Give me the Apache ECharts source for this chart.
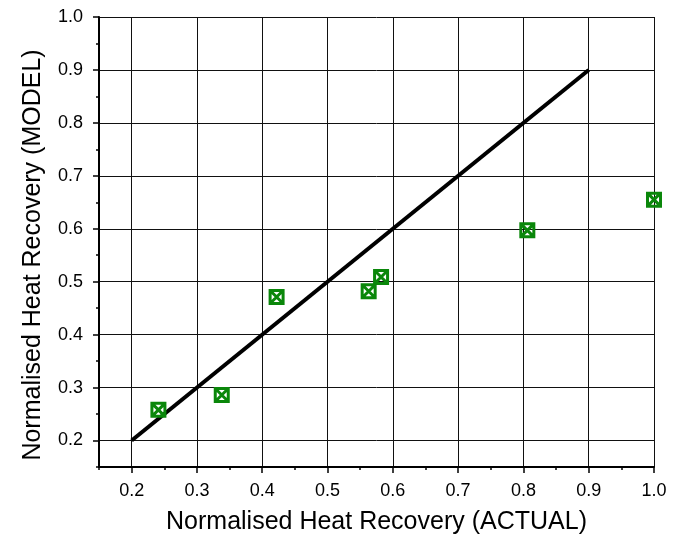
<!DOCTYPE html>
<html>
<head>
<meta charset="utf-8">
<script src="https://cdn.jsdelivr.net/npm/echarts@6/dist/echarts.min.js"></script>
<style>html,body{margin:0;padding:0;background:#fff}#c{width:675px;height:541px}</style>
</head>
<body>
<div id="c"></div>
<script>
var actual = [0.241, 0.338, 0.422, 0.563, 0.582, 0.806, 1.0];
var model  = [0.258, 0.286, 0.471, 0.482, 0.509, 0.597, 0.655];
var lineX = [0.2, 0.9];
var lineY = [0.2, 0.9];
var majorTicks = [0.2, 0.3, 0.4, 0.5, 0.6, 0.7, 0.8, 0.9, 1.0];
var xTitle = 'Normalised Heat Recovery (ACTUAL)';
var yTitle = 'Normalised Heat Recovery (MODEL)';

var font = 'Liberation Sans, Arial, sans-serif';
var chart = echarts.init(document.getElementById('c'));

function fmt(v) { return v.toFixed(1); }
function majorAxis(extra, margin, namePad) {
  return Object.assign({
    type: 'value', min: 0.15, max: 1.0,
    axisLine: { show: true, onZero: false, lineStyle: { color: '#000', width: 2 } },
    axisTick: { show: true, inside: false, length: 6, customValues: majorTicks, lineStyle: { color: '#000', width: 1.5 } },
    axisLabel: { customValues: majorTicks, color: '#000', fontSize: 18, fontFamily: font, margin: margin, formatter: fmt },
    splitLine: { show: true, lineStyle: { color: '#111', width: 1 } },
    nameLocation: 'middle',
    nameTextStyle: { color: '#000', fontSize: 25, fontFamily: font, padding: namePad }
  }, extra);
}
function minorAxis(extra) {
  return Object.assign({
    type: 'value', min: 0.15, max: 1.0, interval: 0.05,
    axisLine: { show: false },
    axisTick: { show: true, inside: false, length: 3, lineStyle: { color: '#000', width: 1.5 } },
    axisLabel: { show: false },
    splitLine: { show: false }
  }, extra);
}

var pts = actual.map(function (x, i) { return [x, model[i]]; });
var lineData = lineX.map(function (x, i) { return [x, lineY[i]]; });

chart.setOption({
  animation: false,
  backgroundColor: '#fff',
  grid: { left: 99, right: 21, top: 17, bottom: 74, show: false },
  xAxis: [
    majorAxis({ position: 'bottom', name: xTitle, nameGap: 43 }, 15, 0),
    minorAxis({ position: 'bottom' })
  ],
  yAxis: [
    majorAxis({ position: 'left', name: yTitle, nameGap: 53 }, 16, [0, 26, 0, 0]),
    minorAxis({ position: 'left' })
  ],
  series: [
    {
      type: 'line', xAxisIndex: 0, yAxisIndex: 0,
      data: lineData, showSymbol: false, symbol: 'none',
      lineStyle: { color: '#000', width: 4 }, z: 3
    },
    {
      type: 'scatter', xAxisIndex: 0, yAxisIndex: 0,
      data: pts,
      symbol: 'path://M0,0L10,0L10,10L0,10Z M0,0L10,10 M10,0L0,10',
      symbolSize: 13,
      itemStyle: { color: 'rgba(0,0,0,0)', borderColor: '#0a870a', borderWidth: 3, opacity: 1 },
      z: 4
    }
  ]
});
</script>
</body>
</html>
